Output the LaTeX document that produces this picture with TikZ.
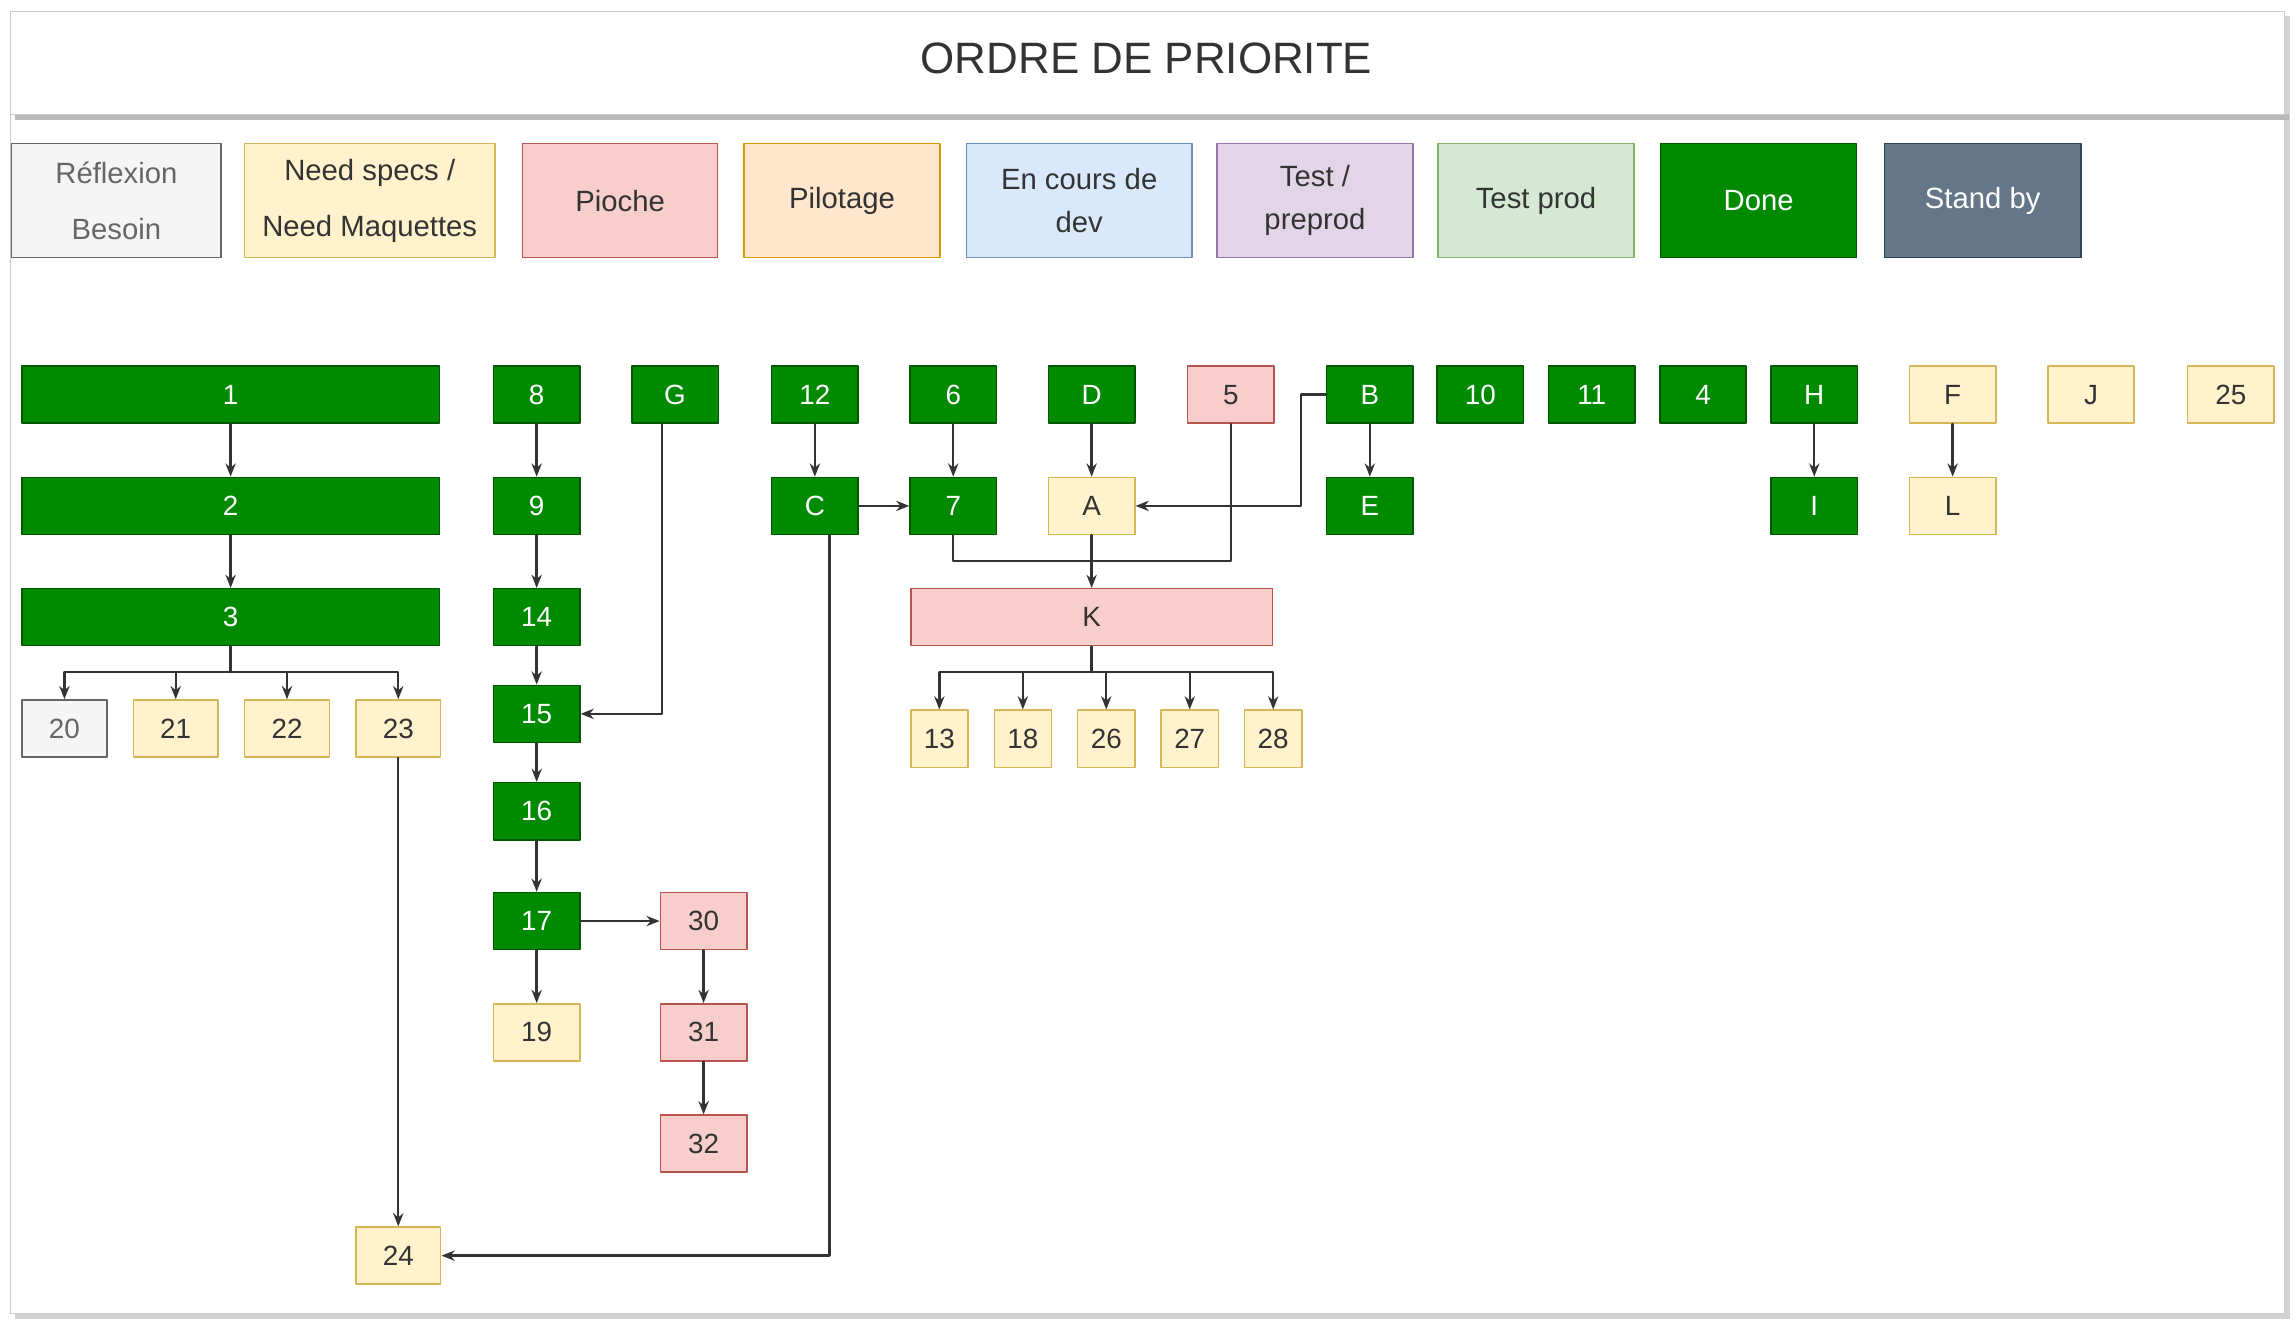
\documentclass[tikz,border=0pt]{standalone}
\usepackage{fontspec}
\setmainfont{Liberation Sans}
\usepackage{tikz}
\usetikzlibrary{calc}
\usetikzlibrary{arrows.meta}
\usetikzlibrary{positioning}

\definecolor{doneFill}{HTML}{008A00}
\definecolor{doneLine}{HTML}{005700}
\definecolor{specsFill}{HTML}{FFF2CC}
\definecolor{specsLine}{HTML}{D6B656}
\definecolor{piocheFill}{HTML}{F8CECC}
\definecolor{piocheLine}{HTML}{B85450}
\definecolor{reflexFill}{HTML}{F5F5F5}
\definecolor{reflexLine}{HTML}{666666}
\definecolor{pilotFill}{HTML}{FFE6CC}
\definecolor{pilotLine}{HTML}{D79B00}
\definecolor{devFill}{HTML}{DAE8FC}
\definecolor{devLine}{HTML}{6C8EBF}
\definecolor{testFill}{HTML}{E1D5E7}
\definecolor{testLine}{HTML}{9673A6}
\definecolor{prodFill}{HTML}{D5E8D4}
\definecolor{prodLine}{HTML}{82B366}
\definecolor{standFill}{HTML}{647687}
\definecolor{standLine}{HTML}{314354}
\definecolor{txtDark}{HTML}{333333}
\definecolor{linkGrey}{HTML}{333333}

\begin{document}
\begin{tikzpicture}[x=1pt, y=-1pt, line cap=round, line join=round, >={Stealth[length=9pt, width=7pt]},
    card/.style={draw, line width=1pt, inner sep=0pt, minimum width=59pt, minimum height=39pt, font=\fontsize{19}{22}\selectfont},
    donebox/.style={card, fill=doneFill, draw=doneLine, text=white},
    specbox/.style={card, fill=specsFill, draw=specsLine, text=txtDark},
    piochebox/.style={card, fill=piocheFill, draw=piocheLine, text=txtDark},
    reflexbox/.style={card, fill=reflexFill, draw=reflexLine, text=reflexLine},
    legendbox/.style={draw, line width=1pt, inner sep=0pt, minimum height=78pt, align=center, text=txtDark, font=\fontsize{20}{29}\selectfont},
    link/.style={->, line width=1.6pt, draw=linkGrey},
    wire/.style={line width=1.6pt, draw=linkGrey}]
  \useasboundingbox (0, 0) rectangle (1568, 907);
  %--- Frame
    \fill[gray!35] (10, 11) rectangle (1564, 901);
    \draw[gray!40, fill=white, line width=0.8pt] (7, 8) rectangle (1560, 897);
    \fill[gray!55] (10, 78) rectangle (1563, 82);
    \draw[gray!40, fill=white, line width=0.8pt] (7, 8) rectangle (1560, 78);
    \node[text=txtDark, font=\fontsize{30}{36}\selectfont] (title) at (783, 40) {ORDRE DE PRIORITE};
  %--- Legend
    \node[legendbox, draw=reflexLine, fill=reflexFill, text=reflexLine, minimum width=143pt] (legReflex) at (79.5, 137) {Réflexion\\[9pt]Besoin};
    \node[legendbox, draw=specsLine, fill=specsFill, minimum width=171pt] (legSpecs) at (252.5, 137) {Need specs /\\[9pt]Need Maquettes};
    \node[legendbox, draw=piocheLine, fill=piocheFill, minimum width=133pt] (legPioche) at (423.5, 137) {Pioche};
    \node[legendbox, draw=pilotLine, fill=pilotFill, minimum width=134pt] (legPilot) at (575, 137) {Pilotage};
    \node[legendbox, draw=devLine, fill=devFill, minimum width=154pt] (legDev) at (737, 137) {En cours de\\dev};
    \node[legendbox, draw=testLine, fill=testFill, minimum width=134pt] (legTest) at (898, 137) {Test /\\preprod};
    \node[legendbox, draw=prodLine, fill=prodFill, minimum width=134pt] (legProd) at (1049, 137) {Test prod};
    \node[legendbox, draw=doneLine, fill=doneFill, text=white, minimum width=134pt] (legDone) at (1201, 137) {Done};
    \node[legendbox, draw=standLine, fill=standFill, text=white, minimum width=134pt] (legStand) at (1354, 137) {Stand by};
  %--- First row
    \node[donebox, minimum width=285pt] (n1) at (157.5, 269.5) {1};
    \node[donebox] (n8) at (366.5, 269.5) {8};
    \node[donebox] (nG) at (461, 269.5) {G};
    \node[donebox] (n12) at (556.5, 269.5) {12};
    \node[donebox] (n6) at (651, 269.5) {6};
    \node[donebox] (nD) at (745.5, 269.5) {D};
    \node[piochebox] (n5) at (840.5, 269.5) {5};
    \node[donebox] (nB) at (935.5, 269.5) {B};
    \node[donebox] (n10) at (1011, 269.5) {10};
    \node[donebox] (n11) at (1087, 269.5) {11};
    \node[donebox] (n4) at (1163, 269.5) {4};
    \node[donebox] (nH) at (1239, 269.5) {H};
    \node[specbox] (nF) at (1333.5, 269.5) {F};
    \node[specbox] (nJ) at (1428, 269.5) {J};
    \node[specbox] (n25) at (1523.5, 269.5) {25};
  %--- Second row
    \node[donebox, minimum width=285pt] (n2) at (157.5, 345.5) {2};
    \node[donebox] (n9) at (366.5, 345.5) {9};
    \node[donebox] (nC) at (556.5, 345.5) {C};
    \node[donebox] (n7) at (651, 345.5) {7};
    \node[specbox] (nA) at (745.5, 345.5) {A};
    \node[donebox] (nE) at (935.5, 345.5) {E};
    \node[donebox] (nI) at (1239, 345.5) {I};
    \node[specbox] (nL) at (1333.5, 345.5) {L};
  %--- Third row
    \node[donebox, minimum width=285pt] (n3) at (157.5, 421.5) {3};
    \node[donebox] (n14) at (366.5, 421.5) {14};
    \node[piochebox, minimum width=247pt] (nK) at (745.5, 421.5) {K};
  %--- Below
    \node[reflexbox, minimum width=58pt] (n20) at (44, 497.5) {20};
    \node[specbox, minimum width=58pt] (n21) at (120, 497.5) {21};
    \node[specbox, minimum width=58pt] (n22) at (196, 497.5) {22};
    \node[specbox, minimum width=58pt] (n23) at (272, 497.5) {23};
    \node[donebox] (n15) at (366.5, 487.5) {15};
    \node[donebox] (n16) at (366.5, 554) {16};
    \node[donebox] (n17) at (366.5, 629) {17};
    \node[specbox] (n19) at (366.5, 705) {19};
    \node[piochebox] (n30) at (480.5, 629) {30};
    \node[piochebox] (n31) at (480.5, 705) {31};
    \node[piochebox] (n32) at (480.5, 781) {32};
    \node[specbox, minimum width=58pt] (n24) at (272, 857.5) {24};
    \node[specbox, minimum width=39pt] (n13) at (641.5, 504.5) {13};
    \node[specbox, minimum width=39pt] (n18) at (698.5, 504.5) {18};
    \node[specbox, minimum width=39pt] (n26) at (755.5, 504.5) {26};
    \node[specbox, minimum width=39pt] (n27) at (812.5, 504.5) {27};
    \node[specbox, minimum width=39pt] (n28) at (869.5, 504.5) {28};
  %--- Links
    \draw[link] (n1) -- (n2);
    \draw[link] (n2) -- (n3);
    \coordinate (fork3) at (157.5, 459);
    \draw[wire] (n3) -- (fork3);
    \foreach \k in {20,21,22,23}
      \draw[link] (fork3) -| (n\k);
    \draw[link] (n8) -- (n9);
    \draw[link] (n9) -- (n14);
    \draw[link] (n14) -- (n15);
    \draw[link] (n15) -- (n16);
    \draw[link] (n16) -- (n17);
    \draw[link] (n17) -- (n19);
    \draw[link] (n17) -- (n30);
    \draw[link] (n30) -- (n31);
    \draw[link] (n31) -- (n32);
    \draw[link] ([xshift=-9pt]nG.south) |- (n15.east);
    \draw[link] (n12) -- (nC);
    \draw[link] (nC) -- (n7);
    \draw[link] ([xshift=10pt]nC.south) |- (n24.east);
    \draw[link] (n23) -- (n24);
    \draw[link] (n6) -- (n7);
    \draw[link] (nD) -- (nA);
    \coordinate (mergeK) at (745.5, 383);
    \draw[wire] (n7) |- (mergeK);
    \draw[wire] (n5) |- (mergeK);
    \draw[link] (nA) -- (nK);
    \draw[link] (nB.west) -- ++(-17, 0) |- (nA.east);
    \draw[link] (nB) -- (nE);
    \draw[link] (nH) -- (nI);
    \draw[link] (nF) -- (nL);
    \coordinate (forkK) at (745.5, 459);
    \draw[wire] (nK) -- (forkK);
    \foreach \k in {13,18,26,27,28}
      \draw[link] (forkK) -| (n\k);
\end{tikzpicture}
\end{document}
